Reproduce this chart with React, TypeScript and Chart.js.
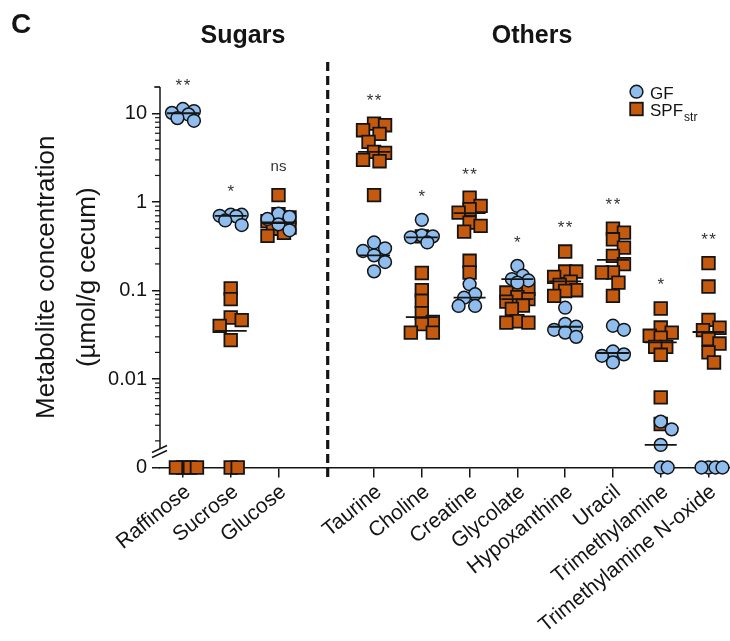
import { useEffect, useRef } from 'react';
import { Chart, registerables } from 'chart.js';

Chart.register(...registerables);

// ---- data -------------------------------------------------------------
const categories = [
  'Raffinose', 'Sucrose', 'Glucose',
  'Taurine', 'Choline', 'Creatine', 'Glycolate', 'Hypoxanthine', 'Uracil',
  'Trimethylamine', 'Trimethylamine N-oxide',
];
// slot 3 is left empty: it holds the divider between the two groups
const categoryPositions = [0, 1, 2, 4, 5, 6, 7, 8, 9, 10, 11];

// µmol/g cecum, 0 = below detection
const gfValues: number[][] = [
  [11.3, 10.7, 10.2, 9.8, 8.9, 8.3],
  [0.72, 0.72, 0.7, 0.69, 0.62, 0.55],
  [0.74, 0.68, 0.645, 0.56, 0.48],
  [0.35, 0.3, 0.28, 0.25, 0.21, 0.165],
  [0.63, 0.42, 0.41, 0.4, 0.35],
  [0.118, 0.091, 0.083, 0.067, 0.067],
  [0.19, 0.147, 0.135, 0.13, 0.123],
  [0.064, 0.042, 0.039, 0.036, 0.0335, 0.03],
  [0.04, 0.036, 0.0205, 0.019, 0.0183, 0.0154],
  [0.0033, 0.0027, 0.0018, 0, 0],
  [0, 0, 0, 0],
];
const spfValues: number[][] = [
  [0, 0, 0, 0],
  [0.106, 0.08, 0.0496, 0.0463, 0.0399, 0.0275, 0, 0],
  [1.2, 0.73, 0.67, 0.61, 0.58, 0.515, 0.5, 0.45, 0.415],
  [7.7, 7.4, 6.5, 5.9, 4.8, 3.7, 3.6, 3.0, 2.9, 1.2],
  [0.41, 0.158, 0.101, 0.0766, 0.0556, 0.0443, 0.0417, 0.0335, 0.0335],
  [1.12, 0.906, 0.83, 0.76, 0.586, 0.538, 0.464, 0.217, 0.16],
  [0.114, 0.105, 0.095, 0.084, 0.08, 0.075, 0.0675, 0.062, 0.045, 0.0434, 0.0434],
  [0.276, 0.164, 0.164, 0.143, 0.126, 0.116, 0.101, 0.099, 0.087],
  [0.502, 0.452, 0.38, 0.306, 0.247, 0.199, 0.16, 0.16, 0.123, 0.087],
  [0.0627, 0.0382, 0.0335, 0.0308, 0.0294, 0.0231, 0.0231, 0.0188, 0.0062, 0.0031],
  [0.204, 0.111, 0.0467, 0.038, 0.0357, 0.0282, 0.0252, 0.02, 0.0154],
];
const gfMedians = [10.1, 0.7, 0.59, 0.25, 0.4, 0.083, 0.135, 0.039, 0.0197, 0.0018, 0];
const spfMedians = [0, 0.035, 0.58, 3.7, 0.05, 0.75, 0.08, 0.127, 0.222, 0.026, 0.034];
const significance = ['**', '*', 'ns', '**', '*', '**', '*', '**', '**', '*', '**'];

const yTickValues = [0, 0.01, 0.1, 1, 10];
const yTickLabels = ['0', '0.01', '0.1', '1', '10'];
const groupTitles = ['Sugars', 'Others'];
const seriesNames = ['GF', 'SPF'];

// ---- styling / geometry -------------------------------------------------
const FONT = "'Liberation Sans', Arial, Helvetica, sans-serif";
const INK = '#141414';
const GF_FILL = '#8ebdee';
const SPF_FILL = '#c55a0f';

const ZERO_LOG = -3; // where "0" sits on the broken log axis
const Y_MAX_LOG = Math.log10(20);
const X_MIN = -0.48;
const X_MAX = 11.45;
const CAT_PX = 570 / (X_MAX - X_MIN);
const DEC_PX = 380.5 / (Y_MAX_LOG - ZERO_LOG);
const MEDIAN_HALF = 16 / CAT_PX;

const toLog = (v: number) => (v > 0 ? Math.log10(v) : ZERO_LOG);

// compact beeswarm: nudge points sideways (within a cap) so markers overlap less
function swarmOffsets(vals: number[]): number[] {
  const order = vals.map((_, i) => i).sort((a, b) => toLog(vals[b]) - toLog(vals[a]));
  const placed: { x: number; y: number }[] = [];
  const out = new Array(vals.length).fill(0);
  for (const i of order) {
    const py = -toLog(vals[i]) * DEC_PX;
    const isZero = !(vals[i] > 0);
    const minDist = isZero ? 7 : 10.5;
    const step = isZero ? 7 : 5.5;
    const cap = isZero ? 14 : 11;
    const cands: number[] = [0];
    for (let k = 1; k * step <= cap + 1e-6; k++) cands.push(k * step, -k * step);
    let chosen = 0;
    let best = -1;
    for (const dx of cands) {
      const near = placed.length ? Math.min(...placed.map((p) => Math.hypot(p.x - dx, p.y - py))) : Infinity;
      if (near >= minDist) {
        chosen = dx;
        best = Infinity;
        break;
      }
      if (near > best) {
        best = near;
        chosen = dx;
      }
    }
    placed.push({ x: chosen, y: py });
    out[i] = chosen / CAT_PX;
  }
  return out;
}

function buildPoints(groups: number[][]) {
  const pts: { x: number; y: number }[] = [];
  groups.forEach((vals, ci) => {
    const offs = swarmOffsets(vals);
    vals.forEach((v, j) => pts.push({ x: categoryPositions[ci] + offs[j], y: toLog(v) }));
  });
  return pts;
}

const decorations = {
  id: 'decorations',
  afterDatasetsDraw(chart: any) {
    const { ctx } = chart;
    const xs = chart.scales.x;
    const ys = chart.scales.y;
    ctx.save();
    ctx.strokeStyle = INK;
    ctx.lineWidth = 1.8;
    categoryPositions.forEach((p, i) => {
      [gfMedians[i], spfMedians[i]].forEach((m) => {
        if (!(m > 0)) return;
        const py = ys.getPixelForValue(Math.log10(m));
        ctx.beginPath();
        ctx.moveTo(xs.getPixelForValue(p - MEDIAN_HALF), py);
        ctx.lineTo(xs.getPixelForValue(p + MEDIAN_HALF), py);
        ctx.stroke();
      });
    });
    ctx.restore();
  },
  afterDraw(chart: any) {
    const { ctx } = chart;
    const xs = chart.scales.x;
    const ys = chart.scales.y;
    const axisX = xs.left;
    const zeroY = ys.getPixelForValue(ZERO_LOG);
    const breakY = zeroY - 23;
    ctx.save();
    ctx.strokeStyle = INK;
    ctx.fillStyle = INK;

    // y axis line (stops at the break)
    ctx.lineWidth = 1.5;
    ctx.beginPath();
    ctx.moveTo(axisX, ys.getPixelForValue(Y_MAX_LOG));
    ctx.lineTo(axisX, breakY + 4);
    ctx.stroke();

    // minor ticks 2..9 in every decade
    ctx.lineWidth = 1.2;
    for (let d = -3; d <= 1; d++) {
      for (let k = 2; k <= 9; k++) {
        const lv = Math.log10(k) + d;
        if (lv > Y_MAX_LOG + 1e-6 || lv < Math.log10(0.002) - 1e-6) continue;
        const py = ys.getPixelForValue(lv);
        ctx.beginPath();
        ctx.moveTo(axisX - 5, py);
        ctx.lineTo(axisX, py);
        ctx.stroke();
      }
    }
    // top tick at 20
    const topY = ys.getPixelForValue(Y_MAX_LOG);
    ctx.beginPath();
    ctx.moveTo(axisX - 6, topY);
    ctx.lineTo(axisX, topY);
    ctx.stroke();

    // axis break marks
    ctx.lineWidth = 1.5;
    for (const off of [0, 5]) {
      ctx.beginPath();
      ctx.moveTo(axisX - 8, breakY + 8 + off);
      ctx.lineTo(axisX + 7, breakY + 1 + off);
      ctx.stroke();
    }

    // divider between sugars and the rest
    const divX = xs.getPixelForValue(3.03);
    ctx.lineWidth = 3.2;
    ctx.setLineDash([9, 5]);
    ctx.beginPath();
    ctx.moveTo(divX, 62);
    ctx.lineTo(divX, zeroY + 10);
    ctx.stroke();
    ctx.setLineDash([]);

    // significance marks above each column
    ctx.textAlign = 'center';
    ctx.textBaseline = 'alphabetic';
    categoryPositions.forEach((p, i) => {
      const top = Math.max(...gfValues[i], ...spfValues[i]);
      const cy = ys.getPixelForValue(toLog(top)) - 28;
      const label = significance[i];
      const px = xs.getPixelForValue(p);
      ctx.fillStyle = '#333';
      if (label.includes('*')) {
        ctx.font = `17px ${FONT}`;
        const txt = label.split('').join('\u200A');
        ctx.fillText(txt, px, cy + 0.58 * 17);
      } else {
        ctx.font = `15px ${FONT}`;
        ctx.fillText(label, px, cy + 0.26 * 15);
      }
    });

    // panel letter and group titles
    ctx.fillStyle = INK;
    ctx.textAlign = 'left';
    ctx.font = `bold 28px ${FONT}`;
    ctx.fillText('C', 11, 33);
    ctx.textAlign = 'center';
    ctx.font = `bold 25px ${FONT}`;
    ctx.fillText(groupTitles[0], 243, 43);
    ctx.fillText(groupTitles[1], 532, 43);

    // legend
    const lx = 636.5;
    ctx.lineWidth = 1.5;
    ctx.fillStyle = GF_FILL;
    ctx.beginPath();
    ctx.arc(lx, 91.7, 6.4, 0, Math.PI * 2);
    ctx.fill();
    ctx.stroke();
    ctx.fillStyle = SPF_FILL;
    ctx.fillRect(lx - 6.3, 109 - 6.3, 12.6, 12.6);
    ctx.lineWidth = 1.8;
    ctx.strokeRect(lx - 6.3, 109 - 6.3, 12.6, 12.6);
    ctx.fillStyle = INK;
    ctx.textAlign = 'left';
    ctx.font = `17px ${FONT}`;
    ctx.fillText(seriesNames[0], 650, 98.5);
    ctx.fillText(seriesNames[1], 650, 116);
    const w = ctx.measureText(seriesNames[1]).width;
    ctx.font = `12px ${FONT}`;
    ctx.fillText('str', 650 + w + 1, 121);

    ctx.restore();
  },
};

export default function App() {
  const ref = useRef<HTMLCanvasElement>(null);

  useEffect(() => {
    const canvas = ref.current;
    if (!canvas) return;
    Chart.defaults.font.family = FONT;

    const chart = new Chart(canvas, {
      type: 'scatter',
      data: {
        datasets: [
          {
            label: seriesNames[0],
            data: buildPoints(gfValues),
            pointStyle: 'circle',
            pointRadius: 6.4,
            backgroundColor: GF_FILL,
            borderColor: INK,
            borderWidth: 1.5,
            clip: false,
          },
          {
            label: seriesNames[1],
            data: buildPoints(spfValues),
            pointStyle: 'rect',
            pointRadius: 8.9,
            backgroundColor: SPF_FILL,
            borderColor: INK,
            borderWidth: 1.8,
            clip: false,
          },
        ],
      } as any,
      options: {
        responsive: false,
        animation: false,
        events: [],
        layout: { autoPadding: false, padding: { top: 87, left: 0, right: 0, bottom: 0 } },
        plugins: { legend: { display: false }, tooltip: { enabled: false } },
        scales: {
          x: {
            type: 'linear',
            min: X_MIN,
            max: X_MAX,
            afterBuildTicks: (s: any) => {
              s.ticks = categoryPositions.map((value) => ({ value }));
            },
            afterFit: (s: any) => {
              s.height = 173.5;
              s.paddingLeft = 0;
              s.paddingRight = 0;
            },
            grid: { drawOnChartArea: false, drawTicks: true, tickLength: 10, color: INK, lineWidth: 1.5 },
            border: { display: true, color: INK, width: 1.5 },
            ticks: {
              autoSkip: false,
              minRotation: 39,
              maxRotation: 39,
              padding: 2,
              labelOffset: 5,
              color: INK,
              font: { size: 21 },
              callback: (v: any) => {
                const i = categoryPositions.indexOf(Number(v));
                return i >= 0 ? categories[i] : '';
              },
            },
          },
          y: {
            type: 'linear',
            min: ZERO_LOG,
            max: Y_MAX_LOG,
            afterBuildTicks: (s: any) => {
              s.ticks = yTickValues.map((v) => ({ value: toLog(v) }));
            },
            afterFit: (s: any) => {
              s.width = 160;
              s.paddingTop = 0;
              s.paddingBottom = 0;
            },
            grid: { drawOnChartArea: false, drawTicks: true, tickLength: 8, color: INK, lineWidth: 1.5 },
            border: { display: false },
            ticks: {
              padding: 5,
              color: INK,
              font: { size: 20 },
              callback: (v: any) => {
                const i = yTickValues.findIndex((t) => Math.abs(toLog(t) - Number(v)) < 1e-6);
                return i >= 0 ? yTickLabels[i] : '';
              },
            },
            title: {
              display: true,
              text: ['Metabolite concentration', '(µmol/g cecum)'],
              color: INK,
              font: { size: 26, lineHeight: 1.57 },
              padding: { top: 26.5, bottom: 0 },
            },
          },
        },
      } as any,
      plugins: [decorations],
    });

    return () => chart.destroy();
  }, []);

  return (
    <div style={{ position: 'fixed', left: 0, top: 0, width: 730, height: 641, background: '#fff' }}>
      <canvas ref={ref} width={730} height={641} style={{ display: 'block', width: 730, height: 641 }} />
    </div>
  );
}
